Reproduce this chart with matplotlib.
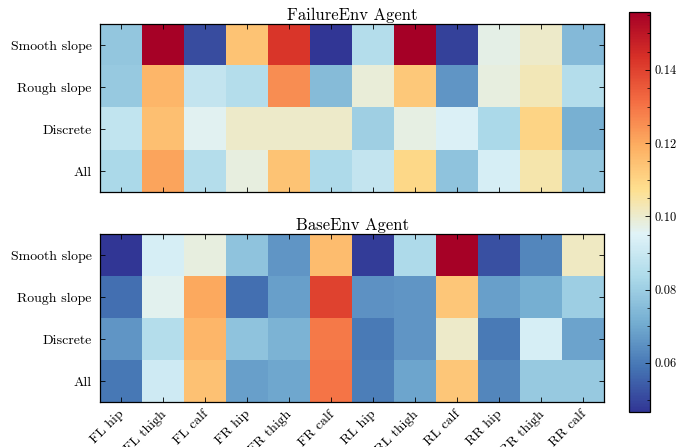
import numpy as np
import matplotlib
matplotlib.use("Agg")
import matplotlib.pyplot as plt
from matplotlib.colors import LinearSegmentedColormap
from matplotlib.ticker import MultipleLocator
from matplotlib.transforms import ScaledTranslation

plt.rcParams['font.family'] = ['cmr10', 'DejaVu Serif']
plt.rcParams['mathtext.fontset'] = 'cm'
plt.rcParams['axes.formatter.use_mathtext'] = True
plt.rcParams['axes.unicode_minus'] = False

joints = ["FL hip", "FL thigh", "FL calf", "FR hip", "FR thigh", "FR calf",
          "RL hip", "RL thigh", "RL calf", "RR hip", "RR thigh", "RR calf"]
terrains = ["Smooth slope", "Rough slope", "Discrete", "All"]

failure_smooth = [0.078, 0.155, 0.051, 0.114, 0.1425, 0.047, 0.085, 0.1558, 0.049, 0.097, 0.1006, 0.0745]
failure_rough = [0.079, 0.117, 0.0885, 0.085, 0.1255, 0.075, 0.099, 0.113, 0.066, 0.098, 0.1025, 0.085]
failure_discrete = [0.088, 0.115, 0.096, 0.1006, 0.1006, 0.1006, 0.0806, 0.0975, 0.094, 0.083, 0.110, 0.072]
failure_all = [0.083, 0.121, 0.085, 0.098, 0.114, 0.084, 0.0885, 0.109, 0.077, 0.093, 0.104, 0.078]

base_smooth = [0.0466, 0.093, 0.098, 0.077, 0.066, 0.116, 0.048, 0.084, 0.155, 0.052, 0.0625, 0.1015]
base_rough = [0.058, 0.0965, 0.120, 0.058, 0.068, 0.140, 0.065, 0.066, 0.1135, 0.068, 0.0715, 0.080]
base_discrete = [0.066, 0.085, 0.117, 0.077, 0.073, 0.129, 0.060, 0.066, 0.1006, 0.060, 0.093, 0.069]
base_all = [0.0595, 0.091, 0.1145, 0.068, 0.070, 0.130, 0.061, 0.0695, 0.1135, 0.0625, 0.079, 0.079]

failure = np.array([failure_smooth, failure_rough, failure_discrete, failure_all])
base = np.array([base_smooth, base_rough, base_discrete, base_all])

vmin = min(failure.min(), base.min())
vmax = max(failure.max(), base.max())

cmap_colors = ["#313695", "#4575b4", "#74add1", "#abd9e9", "#e0f3f8",
               "#fee090", "#fdae61", "#f46d43", "#d73027", "#a50026"]
cmap = LinearSegmentedColormap.from_list("rdylbu_r_even", cmap_colors, N=256)

W, H = 692, 447
fig = plt.figure(figsize=(W / 100, H / 100), dpi=100)

def rect(x0, y0, x1, y1):
    return [x0 / W, 1 - y1 / H, (x1 - x0) / W, (y1 - y0) / H]

ax1 = fig.add_axes(rect(100, 24, 604, 192))
ax2 = fig.add_axes(rect(100, 234, 604, 402))
cax = fig.add_axes(rect(629, 12, 650, 412))

for ax, data, title in [(ax1, failure, "FailureEnv Agent"), (ax2, base, "BaseEnv Agent")]:
    im = ax.imshow(data, cmap=cmap, vmin=vmin, vmax=vmax, aspect='auto')
    ax.set_title(title, fontsize=12, pad=3)
    ax.set_yticks(range(len(terrains)))
    ax.set_yticklabels(terrains, fontsize=10)
    ax.set_xticks(range(len(joints)))
    ax.tick_params(direction='in', top=True, right=True, length=3.5, width=0.6)
    ax.tick_params(axis='y', pad=6)
    ax.tick_params(which='minor', left=False, right=False, top=False, bottom=False)
    for s in ax.spines.values():
        s.set_linewidth(0.9)

ax1.set_xticklabels([])
ax2.set_xticklabels(joints, fontsize=10, rotation=45, ha='right', rotation_mode='anchor')
ax2.tick_params(axis='x', pad=4.5)
offset = ScaledTranslation(-0.03, 0, fig.dpi_scale_trans)
for lab in ax2.get_xticklabels():
    lab.set_transform(lab.get_transform() + offset)

cb = fig.colorbar(im, cax=cax)
cb.set_ticks([0.06, 0.08, 0.10, 0.12, 0.14])
cb.set_ticklabels(["0.06", "0.08", "0.10", "0.12", "0.14"])
cb.ax.yaxis.set_minor_locator(MultipleLocator(0.005))
cb.ax.tick_params(which='major', direction='in', length=3.5, width=0.6, labelsize=9, pad=3)
cb.ax.tick_params(which='minor', direction='in', length=2, width=0.5)
cb.outline.set_linewidth(0.9)

fig.savefig("out.png", dpi=100)
